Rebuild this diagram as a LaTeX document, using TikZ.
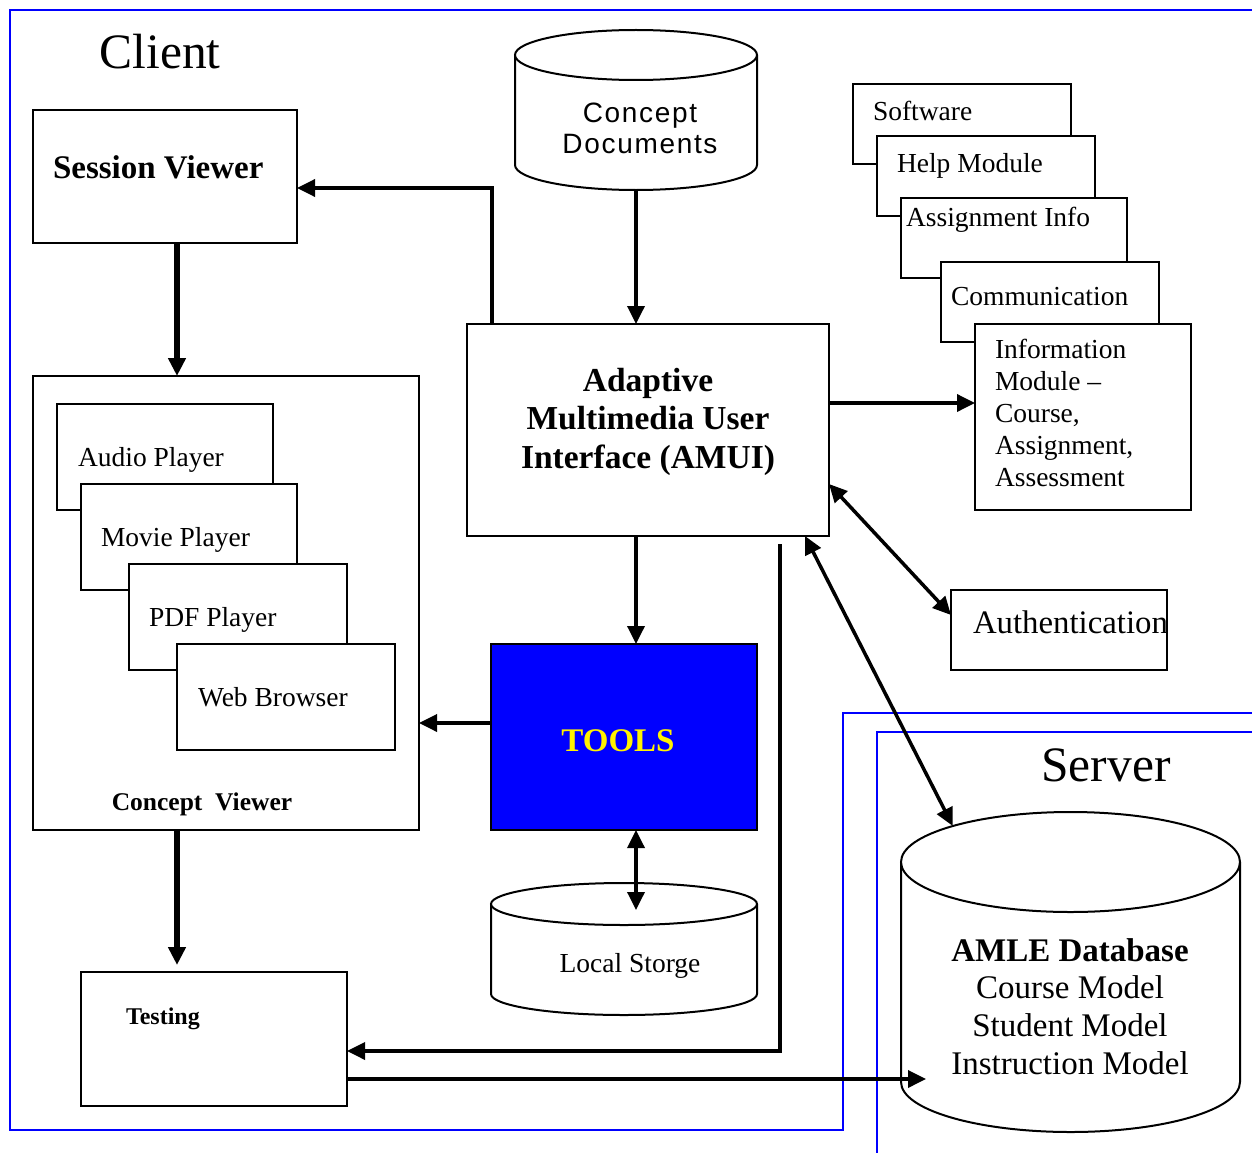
\documentclass[tikz,border=0pt]{standalone}
\usepackage{fontspec}
\setmainfont{Liberation Serif}
\newfontfamily\sansfam[LetterSpace=6.0]{Liberation Sans}
\usetikzlibrary{arrows.meta,shapes.geometric,fit}

\newcommand\sz[2]{\fontsize{#1}{#2}\selectfont}

\tikzset{
  box/.style={draw, line width=2pt, fill=white, inner sep=0pt, outer sep=0pt},
  capshape/.style={ellipse, draw, line width=2pt, fill=white, inner sep=0pt, outer sep=0pt},
  span/.style={inner sep=0pt, outer sep=0pt},
  frameline/.style={draw=blue, line width=2pt},
  body/.style={draw, line width=2pt, fill=white},
  arr/.style={line width=3.5pt, -{Triangle[length=18pt,width=17pt]}},
  heavyarr/.style={line width=6pt, -{Triangle[length=18pt,width=17pt]}},
  dblarr/.style={line width=3.5pt, {Triangle[length=18pt,width=17pt]}-{Triangle[length=18pt,width=17pt]}},
  txt/.style={inner sep=0pt, outer sep=0pt},
}

\begin{document}
\begin{tikzpicture}[x=1pt, y=-1pt]
\useasboundingbox (0,0) rectangle (1252,1153);

% client and server frames
\draw[frameline] (1252,10) -- (10,10) -- (10,1130) -- (843,1130) -- (843,713) -- (1252,713);
\draw[frameline] (877,1153) -- (877,732) -- (1252,732);

\node[txt, font=\sz{49.5pt}{56pt}] (client) at (160,52) {Client};
\node[txt, font=\sz{49.5pt}{56pt}] (server) at (1106,765) {Server};

% session viewer
\node[box, fit={(33,110) (297,243)}] (sv) {};
\node[txt, anchor=west, font=\sz{33pt}{38pt}\bfseries] at (53,167) {Session Viewer};

% concept viewer with its stacked players
\node[box, fit={(33,376) (419,830)}] (cv) {};
\node[box, fit={(57,404) (273,510)}] (audio) {};
\node[box, fit={(81,484) (297,590)}] (movie) {};
\node[box, fit={(129,564) (347,670)}] (pdf) {};
\node[box, fit={(177,644) (395,750)}] (web) {};
\node[txt, anchor=west, font=\sz{27.5pt}{32pt}] at (78,460) {Audio Player};
\node[txt, anchor=west, font=\sz{27.5pt}{32pt}] at (101,540) {Movie Player};
\node[txt, anchor=west, font=\sz{27.5pt}{32pt}] at (149,620) {PDF Player};
\node[txt, anchor=west, font=\sz{27.5pt}{32pt}] at (198,697) {Web Browser};
\node[txt, font=\sz{25.5pt}{30pt}\bfseries] at (202,804) {Concept\ \ Viewer};

% concept documents store
\node[span, fit={(515,30) (757,190)}] (cd) {};
\path[body] (515,55) -- (515,165) arc[start angle=180, end angle=360, x radius=121pt, y radius=25pt] -- (757,55);
\node[capshape, minimum width=242pt, minimum height=50pt] (cdcap) at (636,55) {};
\node[txt, align=center, font=\sz{28pt}{31pt}\sansfam] at (640,128.5) {Concept\\Documents};

% adaptive multimedia user interface
\node[box, fit={(467,324) (829,536)}] (amui) {};
\node[txt, align=center, font=\sz{33.5pt}{38.5pt}\bfseries] at (648,421.5) {Adaptive\\Multimedia User\\Interface (AMUI)};

% tools
\node[box, fill=blue, fit={(491,644) (757,830)}] (tools) {};
\node[txt, text=yellow, font=\sz{33pt}{38pt}\bfseries] at (618,741) {TOOLS};

% local storage
\node[span, fit={(491,883) (757,1015)}] (ls) {};
\path[body] (491,904) -- (491,994) arc[start angle=180, end angle=360, x radius=133pt, y radius=21pt] -- (757,904);
\node[capshape, minimum width=266pt, minimum height=42pt] (lscap) at (624,904) {};
\node[txt, font=\sz{27.5pt}{32pt}] at (630,966) {Local Storge};

% testing
\node[box, fit={(81,972) (347,1106)}] (test) {};
\node[txt, anchor=west, font=\sz{24pt}{28pt}\bfseries] at (126,1019) {Testing};

% module stack
\node[box, fit={(853,84) (1071,164)}] (soft) {};
\node[box, fit={(877,136) (1095,216)}] (help) {};
\node[box, fit={(901,198) (1127,278)}] (assign) {};
\node[box, fit={(941,262) (1159,342)}] (comm) {};
\node[box, fit={(975,324) (1191,510)}] (info) {};
\node[txt, anchor=west, font=\sz{27.5pt}{32pt}] at (873,111) {Software};
\node[txt, anchor=west, font=\sz{27.5pt}{32pt}] at (897,166) {Help Module};
\node[txt, anchor=west, font=\sz{27.5pt}{32pt}] at (906,220) {Assignment Info};
\node[txt, anchor=west, font=\sz{27.5pt}{32pt}] at (951,297) {Communication};
\node[txt, anchor=west, align=left, font=\sz{27.5pt}{32pt}] at (995,413) {Information\\Module --\\Course,\\Assignment,\\Assessment};

% authentication
\node[box, fit={(951,590) (1167,670)}] (auth) {};
\node[txt, anchor=west, font=\sz{32.8pt}{38pt}] at (973,622) {Authentication};

% AMLE database
\node[span, fit={(901,812) (1240,1132)}] (amle) {};
\path[body] (901,862) -- (901,1082) arc[start angle=180, end angle=360, x radius=169.5pt, y radius=50pt] -- (1240,862);
\node[capshape, minimum width=339pt, minimum height=100pt] (amlecap) at (1070.5,862) {};
\node[txt, align=center, font=\sz{33pt}{37.7pt}] at (1070,1006.5) {\textbf{AMLE Database}\\Course Model\\Student Model\\Instruction Model};

% connectors
\draw[arr] (cd.south) -- (amui.north -| cd.south);
\draw[arr] (amui.north -| 492,0) |- ([yshift=-11.5pt]sv.east);
\draw[heavyarr] (sv.south -| 177,0) -- (cv.north -| 177,0);
\draw[arr] (amui.south -| 636,0) -- (tools.north -| 636,0);
\draw[arr] (tools.west |- 0,723) -- (cv.east |- 0,723);
\draw[dblarr, shorten >=-6pt] (tools.south -| 636,0) -- (lscap.center -| 636,0);
\draw[heavyarr, shorten >=7pt] (cv.south -| 177,0) -- (test.north -| 177,0);
\draw[arr, shorten <=8pt] (amui.south -| 780,0) |- (test.east |- 0,1051);
\draw[arr, shorten >=-25pt] (test.east |- 0,1079) -- (amle.west |- 0,1079);
\draw[arr] (amui.east |- 0,403) -- (info.west |- 0,403);
\draw[dblarr] ([yshift=-54pt]amui.east) -- ([yshift=15pt]auth.west);
\draw[dblarr] ([xshift=-24pt]amui.south east) -- (amlecap.163.5);
\end{tikzpicture}
\end{document}
